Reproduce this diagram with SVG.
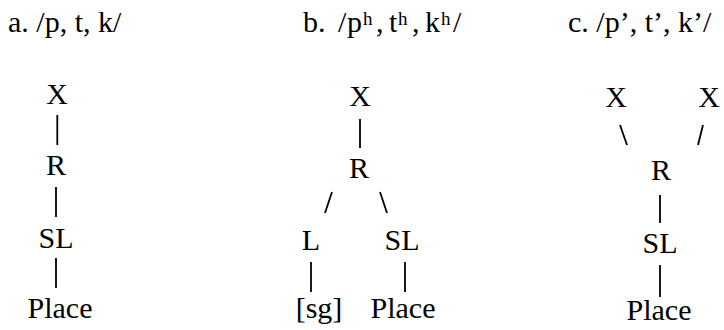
<svg xmlns="http://www.w3.org/2000/svg" width="724" height="330" viewBox="0 0 724 330">
<style>
text{font-family:'Liberation Serif','DejaVu Serif',serif;font-size:30px;fill:#000}
.n{text-anchor:middle}
.sup{font-size:19px}
#connectors line{stroke:#000;stroke-width:1.8;stroke-linecap:butt}
</style>
<rect width="724" height="330" fill="#fff"/>
<g id="titles">
<text id="title-a" x="8" y="32">a. /p, t, k/</text>
<text id="title-b" y="32"><tspan x="303">b.</tspan><tspan x="338">/</tspan><tspan x="347">p</tspan><tspan class="sup" x="363" y="25">h</tspan><tspan x="376" y="32">,</tspan><tspan x="389">t</tspan><tspan class="sup" x="398" y="25">h</tspan><tspan x="412" y="32">,</tspan><tspan x="425">k</tspan><tspan class="sup" x="441" y="25">h</tspan><tspan x="453" y="32">/</tspan></text>
<text id="title-c" x="568" y="32">c. /p’, t’, k’/</text>
</g>
<g id="a-X"><text class="n" x="57" y="104">X</text></g>
<g id="a-R"><text class="n" x="56" y="175">R</text></g>
<g id="a-SL"><text class="n" x="56" y="248">SL</text></g>
<g id="a-Place"><text class="n" x="60" y="318">Place</text></g>
<g id="b-X"><text class="n" x="360" y="106">X</text></g>
<g id="b-R"><text class="n" x="359" y="178">R</text></g>
<g id="b-L"><text class="n" x="311" y="250">L</text></g>
<g id="b-SL"><text class="n" x="402" y="250">SL</text></g>
<g id="b-sg"><text class="n" x="319" y="318">[sg]</text></g>
<g id="b-Place"><text class="n" x="403" y="318">Place</text></g>
<g id="c-X1"><text class="n" x="616" y="107">X</text></g>
<g id="c-X2"><text class="n" x="709" y="107">X</text></g>
<g id="c-R"><text class="n" x="661" y="180">R</text></g>
<g id="c-SL"><text class="n" x="660" y="253">SL</text></g>
<g id="c-Place"><text class="n" x="659" y="320">Place</text></g>
<g id="connectors">
<line x1="57.3" y1="115" x2="57.3" y2="145"/>
<line x1="56" y1="187" x2="56" y2="217"/>
<line x1="56" y1="258" x2="56" y2="288"/>
<line x1="360" y1="119" x2="360" y2="148"/>
<line x1="332" y1="192" x2="325" y2="213"/>
<line x1="380" y1="192" x2="387" y2="213"/>
<line x1="311" y1="262" x2="311" y2="292"/>
<line x1="405" y1="262" x2="405" y2="292"/>
<line x1="620" y1="125" x2="627" y2="145"/>
<line x1="703" y1="125" x2="698" y2="145"/>
<line x1="660" y1="195" x2="660" y2="223"/>
<line x1="660" y1="265" x2="660" y2="297"/>
</g>
</svg>
